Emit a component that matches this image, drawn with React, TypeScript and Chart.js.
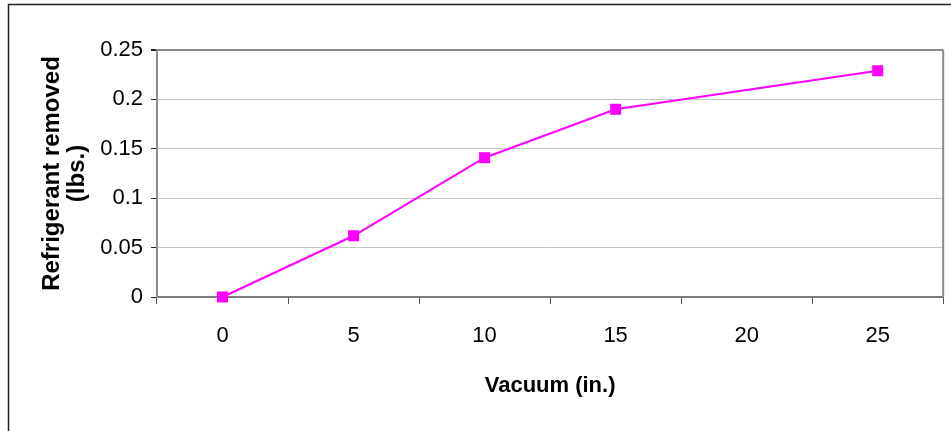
import React, { useEffect, useRef } from "react";
import { Chart, registerables } from "chart.js";

Chart.register(...registerables);

const categories = ["0", "5", "10", "15", "20", "25"];
const refrigerantRemoved: (number | null)[] = [0.0, 0.062, 0.141, 0.19, null, 0.229];
const yTickLabels = ["0", "0.05", "0.1", "0.15", "0.2", "0.25"];
const xTitle = "Vacuum (in.)";
const yTitle = ["Refrigerant removed", "(lbs.)"];

const FONT = 'Arial, "Liberation Sans", sans-serif';

const framePlugin = {
  id: "frame",
  beforeDraw(chart: any) {
    const { ctx, width, height } = chart;
    ctx.save();
    ctx.fillStyle = "#ffffff";
    ctx.fillRect(0, 0, width, height);
    ctx.restore();
  },
  afterDraw(chart: any) {
    const { ctx, chartArea } = chart;
    ctx.save();
    // outer chart border
    ctx.strokeStyle = "#222";
    ctx.lineWidth = 1.5;
    ctx.beginPath();
    ctx.moveTo(8.5, chart.height + 2);
    ctx.lineTo(8.5, 4.5);
    ctx.lineTo(chart.width + 2, 4.5);
    ctx.stroke();
    // plot area right border
    ctx.strokeStyle = "#8c8c8c";
    ctx.lineWidth = 2;
    ctx.beginPath();
    ctx.moveTo(chartArea.right, chartArea.top);
    ctx.lineTo(chartArea.right, chartArea.bottom);
    ctx.stroke();
    ctx.restore();
  },
};

export default function App() {
  const ref = useRef<HTMLCanvasElement | null>(null);

  useEffect(() => {
    if (!ref.current) return;
    const chart = new Chart(ref.current, {
      type: "line",
      data: {
        labels: categories,
        datasets: [
          {
            data: refrigerantRemoved,
            borderColor: "#ff00ff",
            backgroundColor: "#ff00ff",
            borderWidth: 2,
            pointStyle: "rect",
            pointRadius: 7.8,
            pointBorderWidth: 0,
            pointBackgroundColor: "#ff00ff",
            spanGaps: true,
            tension: 0,
            clip: false as any,
            segment: {
              borderWidth: (c: any) => (c.p1DataIndex - c.p0DataIndex > 1 ? 1 : 2),
            },
          } as any,
        ],
      },
      plugins: [framePlugin],
      options: {
        animation: false,
        responsive: false,
        devicePixelRatio: 1,
        layout: { padding: { left: 0, top: 50, right: 7, bottom: 32 } },
        plugins: {
          legend: { display: false },
          tooltip: { enabled: false },
        },
        scales: {
          x: {
            type: "category",
            offset: true,
            afterFit: (s: any) => {
              s.height = 102;
            },
            grid: {
              offset: true,
              drawOnChartArea: false,
              drawTicks: true,
              tickLength: 7,
              tickColor: "#555",
            },
            border: { color: "#7a7a7a", width: 2 },
            ticks: {
              color: "#000",
              padding: 19,
              font: { family: FONT, size: 22 },
            },
            title: {
              display: true,
              text: xTitle,
              color: "#000",
              font: { family: FONT, size: 22, weight: "bold" },
              padding: { top: 0, bottom: 0 },
            },
          },
          y: {
            min: 0,
            max: 0.25,
            afterFit: (s: any) => {
              s.width = 157;
            },
            ticks: {
              stepSize: 0.05,
              color: "#000",
              padding: 8,
              font: { family: FONT, size: 22 },
              callback: (_v: any, i: number) => yTickLabels[i],
            },
            grid: {
              color: (c: any) =>
                c.index === yTickLabels.length - 1 ? "#8c8c8c" : "#c6c6c6",
              lineWidth: (c: any) => (c.index === yTickLabels.length - 1 ? 2 : 1),
              tickColor: "#222",
              tickLength: 6,
            },
            border: { color: "#8c8c8c", width: 2 },
            title: {
              display: true,
              text: yTitle,
              color: "#000",
              font: { family: FONT, size: 24, weight: "bold", lineHeight: 1.05 },
              padding: { top: 40, bottom: 0 },
            },
          },
        },
      } as any,
    });
    return () => chart.destroy();
  }, []);

  return (
    <div style={{ position: "fixed", left: 0, top: 0, width: 951, height: 431 }}>
      <canvas ref={ref} width={951} height={431} />
    </div>
  );
}
